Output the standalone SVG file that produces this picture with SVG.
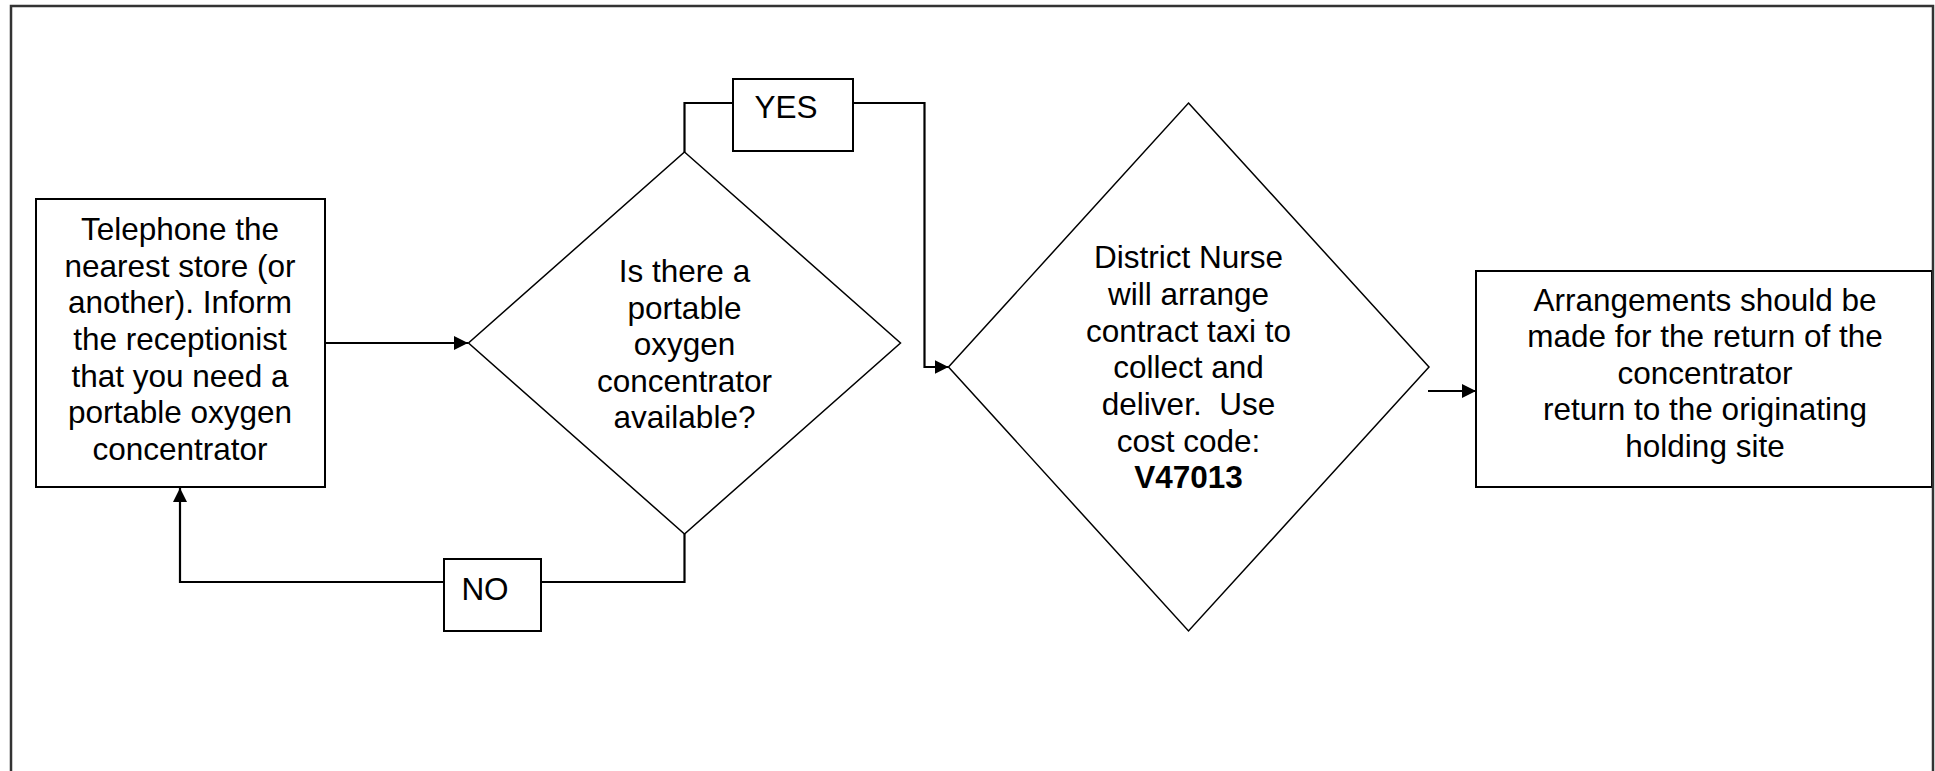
<svg xmlns="http://www.w3.org/2000/svg" width="1935" height="771" viewBox="0 0 1935 771">
<style>
.shape{fill:#fff;stroke:#000;stroke-width:2}
.dia{fill:#fff;stroke:#000;stroke-width:1.5}
.conn{fill:none;stroke:#000;stroke-width:2.2}
text{font-family:"Liberation Sans",Arial,sans-serif;font-size:31.5px;fill:#000;text-anchor:middle}
.b{font-weight:bold}
</style>
<defs>
<marker id="arr" markerUnits="userSpaceOnUse" markerWidth="14" markerHeight="14" refX="14" refY="7" orient="auto">
<path d="M0,0 L14,7 L0,14 z" fill="#000"/>
</marker>
</defs>
<rect x="0" y="0" width="1935" height="771" fill="#fff"/>

<g id="connectors">
<path class="conn" d="M325,343 L468,343" marker-end="url(#arr)"/>
<path class="conn" d="M684.5,152 L684.5,103 L733,103"/>
<path class="conn" d="M853,103 L924.5,103 L924.5,367 L948.5,367" marker-end="url(#arr)"/>
<path class="conn" d="M684.5,534 L684.5,582 L541,582"/>
<path class="conn" d="M444,582 L180,582 L180,488" marker-end="url(#arr)"/>
<path class="conn" d="M1428,391 L1476,391" marker-end="url(#arr)"/>
</g>

<g id="telephone">
<rect class="shape" x="36" y="199" width="289" height="288"/>
<text x="180" y="240">Telephone the</text>
<text x="180" y="277">nearest store (or</text>
<text x="180" y="313">another). Inform</text>
<text x="180" y="350">the receptionist</text>
<text x="180" y="387">that you need a</text>
<text x="180" y="423">portable oxygen</text>
<text x="180" y="460">concentrator</text>
</g>

<g id="question">
<path class="dia" d="M684.5,152 L900.5,343 L684.5,534 L468.5,343 z"/>
<text x="684.5" y="282">Is there a</text>
<text x="684.5" y="319">portable</text>
<text x="684.5" y="355">oxygen</text>
<text x="684.5" y="392">concentrator</text>
<text x="684.5" y="428">available?</text>
</g>

<g id="yes">
<rect class="shape" x="733" y="79" width="120" height="72"/>
<text x="786" y="118">YES</text>
</g>

<g id="no">
<rect class="shape" x="444" y="559" width="97" height="72"/>
<text x="485" y="600">NO</text>
</g>

<g id="nurse">
<path class="dia" d="M1188.5,103 L1429,367 L1188.5,631 L948.5,367 z"/>
<text x="1188.5" y="268">District Nurse</text>
<text x="1188.5" y="305">will arrange</text>
<text x="1188.5" y="342">contract taxi to</text>
<text x="1188.5" y="378">collect and</text>
<text x="1188.5" y="415" xml:space="preserve">deliver.  Use</text>
<text x="1188.5" y="452">cost code:</text>
<text x="1188.5" y="488" class="b">V47013</text>
</g>

<g id="arrangements">
<rect class="shape" x="1476" y="271" width="456" height="216"/>
<text x="1705" y="311">Arrangements should be</text>
<text x="1705" y="347">made for the return of the</text>
<text x="1705" y="384">concentrator</text>
<text x="1705" y="420">return to the originating</text>
<text x="1705" y="457">holding site</text>
</g>

<path id="frame" d="M11,780 L11,6 L1933,6 L1933,780" fill="none" stroke="#333" stroke-width="2.5"/>
</svg>
